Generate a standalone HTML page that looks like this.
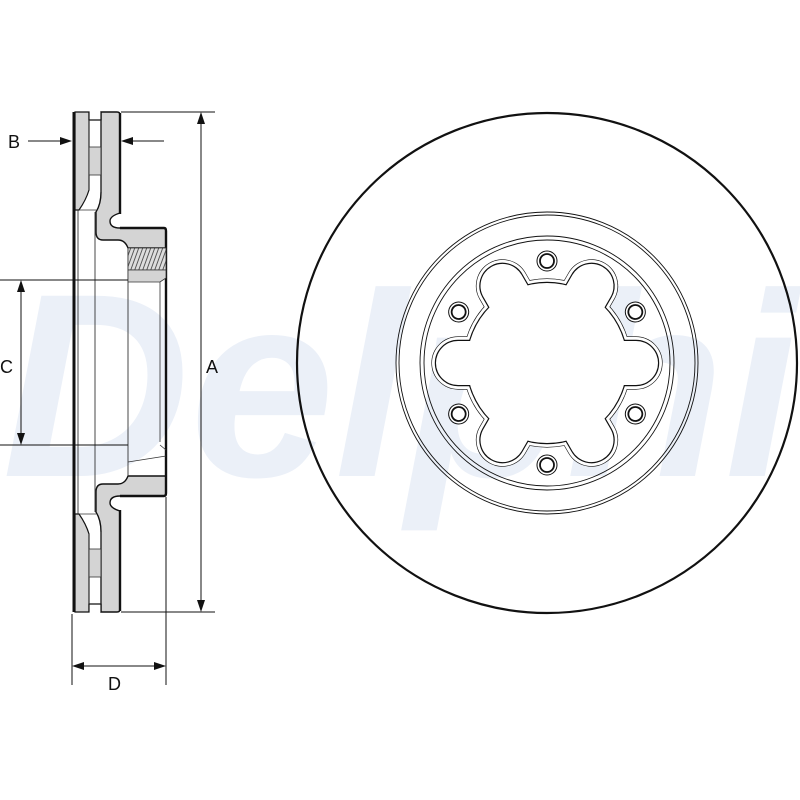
<!DOCTYPE html>
<html><head><meta charset="utf-8"><style>
html,body{margin:0;padding:0;background:#fff}
svg{display:block}
text{font-family:"Liberation Sans",Arial,sans-serif}
</style></head><body>
<svg width="800" height="800" viewBox="0 0 800 800" xmlns="http://www.w3.org/2000/svg">
<defs>
<pattern id="h" width="4" height="22" patternUnits="userSpaceOnUse" patternTransform="skewX(-20)">
<rect width="4" height="22" fill="#ddd"/><line x1="1" y1="0" x2="1" y2="22" stroke="#444" stroke-width="0.9"/>
</pattern>
<g id="half">
  <path d="M75,112 L89,112 L89,190 Q86,200 79,210 L75,210 Z" fill="#d4d4d4" stroke="#111" stroke-width="1.2"/>
  <path d="M101,112 L117,112 Q120,112 120,115 L120,213 Q110,216 110,221 Q110,228 120,228 L163,228 Q166,228 166,231 L166,248 L128,248 Q125,240 118,240 L103,240 Q96,240 96,232 L96,212 Q101,204 101,192 Z" fill="#d4d4d4" stroke="#111" stroke-width="1.4"/>
  <path d="M120,113 L120,214 M120,228 L164,228 Q166,228 166,231 L166,362" fill="none" stroke="#111" stroke-width="2.4"/>
  <path d="M89,112 L89,120 L101,120 L101,112" fill="#fff" stroke="#111" stroke-width="1.2"/>
  <rect x="89" y="147" width="12" height="28" fill="#d4d4d4" stroke="#333" stroke-width="0.8"/>
  <line x1="89" y1="120" x2="89" y2="190" stroke="#333" stroke-width="0.8"/>
  <line x1="101" y1="120" x2="101" y2="192" stroke="#333" stroke-width="0.8"/>
  <line x1="79" y1="210" x2="96" y2="210" stroke="#333" stroke-width="0.8"/>
  <line x1="78" y1="210" x2="78" y2="362" stroke="#333" stroke-width="0.9"/>
  <line x1="95" y1="212" x2="95" y2="362" stroke="#333" stroke-width="0.9"/>
  <line x1="128" y1="248" x2="128" y2="362" stroke="#333" stroke-width="0.9"/>
  <line x1="160" y1="282" x2="160" y2="362" stroke="#333" stroke-width="0.8"/>
  <line x1="74" y1="112" x2="74" y2="362" stroke="#111" stroke-width="3"/>
</g>
<g id="lobeO"><rect x="0" y="-26" width="115" height="52" rx="26"/></g>
<g id="lobeI"><rect x="0" y="-22" width="111" height="44" rx="22"/></g>
</defs>

<text x="2" y="476" font-size="262" font-weight="bold" fill="#ebf0f8" font-style="italic" textLength="795" lengthAdjust="spacingAndGlyphs">Delphi</text>

<use href="#half"/>
<use href="#half" transform="matrix(1,0,0,-1,0,724)"/>
<rect x="128" y="248" width="38" height="22" fill="url(#h)" stroke="#333" stroke-width="0.8"/>
<path d="M128,270 L166,270 L166,278 L160,282 L128,282 Z" fill="#d4d4d4" stroke="#333" stroke-width="0.8"/>
<path d="M128,462 L166,456 M160,445 L166,450" stroke="#333" stroke-width="0.8" fill="none"/>

<g stroke="#111" stroke-width="1" fill="none">
  <line x1="121" y1="112" x2="215" y2="112"/>
  <line x1="121" y1="612" x2="215" y2="612"/>
  <line x1="201" y1="116" x2="201" y2="608"/>
  <line x1="0" y1="280" x2="128" y2="280"/>
  <line x1="0" y1="445" x2="128" y2="445"/>
  <line x1="21" y1="284" x2="21" y2="441"/>
  <line x1="28" y1="141" x2="68" y2="141"/>
  <line x1="125" y1="141" x2="164" y2="141"/>
  <line x1="72" y1="614" x2="72" y2="685"/>
  <line x1="166" y1="497" x2="166" y2="685"/>
  <line x1="76" y1="666" x2="162" y2="666"/>
</g>
<g fill="#111">
  <path d="M201,112 L197,124 L205,124 Z"/><path d="M201,612 L197,600 L205,600 Z"/>
  <path d="M21,280 L17,292 L25,292 Z"/><path d="M21,445 L17,433 L25,433 Z"/>
  <path d="M72,141 L60,137 L60,145 Z"/><path d="M121,141 L133,137 L133,145 Z"/>
  <path d="M72,666 L84,662 L84,670 Z"/><path d="M166,666 L154,662 L154,670 Z"/>
</g>
<g font-size="18" fill="#111">
  <text x="8" y="148">B</text>
  <text x="0" y="373">C</text>
  <text x="206" y="373">A</text>
  <text x="108" y="690">D</text>
</g>

<g fill="none" stroke="#111">
  <circle cx="547" cy="363" r="250" stroke-width="2.2"/>
  <circle cx="547" cy="363" r="151" stroke-width="0.9"/>
  <circle cx="547" cy="363" r="148" stroke-width="0.9"/>
  <circle cx="547" cy="363" r="127" stroke-width="0.9"/>
  <circle cx="547" cy="363" r="123" stroke-width="0.9"/>
</g>
<g transform="translate(547,363)">
  <g fill="#fff" stroke="#111" stroke-width="1.2">
    <circle r="84"/>
    <use href="#lobeO"/><use href="#lobeO" transform="rotate(60)"/><use href="#lobeO" transform="rotate(120)"/>
    <use href="#lobeO" transform="rotate(180)"/><use href="#lobeO" transform="rotate(240)"/><use href="#lobeO" transform="rotate(300)"/>
  </g>
  <g fill="#fff" stroke="none">
    <circle r="84"/>
    <use href="#lobeO"/><use href="#lobeO" transform="rotate(60)"/><use href="#lobeO" transform="rotate(120)"/>
    <use href="#lobeO" transform="rotate(180)"/><use href="#lobeO" transform="rotate(240)"/><use href="#lobeO" transform="rotate(300)"/>
  </g>
  <g fill="#fff" stroke="#111" stroke-width="2.4">
    <circle r="80"/>
    <use href="#lobeI"/><use href="#lobeI" transform="rotate(60)"/><use href="#lobeI" transform="rotate(120)"/>
    <use href="#lobeI" transform="rotate(180)"/><use href="#lobeI" transform="rotate(240)"/><use href="#lobeI" transform="rotate(300)"/>
  </g>
  <g fill="#fff" stroke="none">
    <circle r="80"/>
    <use href="#lobeI"/><use href="#lobeI" transform="rotate(60)"/><use href="#lobeI" transform="rotate(120)"/>
    <use href="#lobeI" transform="rotate(180)"/><use href="#lobeI" transform="rotate(240)"/><use href="#lobeI" transform="rotate(300)"/>
  </g>
  <g fill="#fff" stroke="#111">
    <g transform="rotate(-90)"><circle cx="102" r="10" stroke-width="1"/><circle cx="102" r="7" stroke-width="1.8"/></g>
    <g transform="rotate(-30)"><circle cx="102" r="10" stroke-width="1"/><circle cx="102" r="7" stroke-width="1.8"/></g>
    <g transform="rotate(30)"><circle cx="102" r="10" stroke-width="1"/><circle cx="102" r="7" stroke-width="1.8"/></g>
    <g transform="rotate(90)"><circle cx="102" r="10" stroke-width="1"/><circle cx="102" r="7" stroke-width="1.8"/></g>
    <g transform="rotate(150)"><circle cx="102" r="10" stroke-width="1"/><circle cx="102" r="7" stroke-width="1.8"/></g>
    <g transform="rotate(210)"><circle cx="102" r="10" stroke-width="1"/><circle cx="102" r="7" stroke-width="1.8"/></g>
  </g>
</g>
</svg>
</body></html>
